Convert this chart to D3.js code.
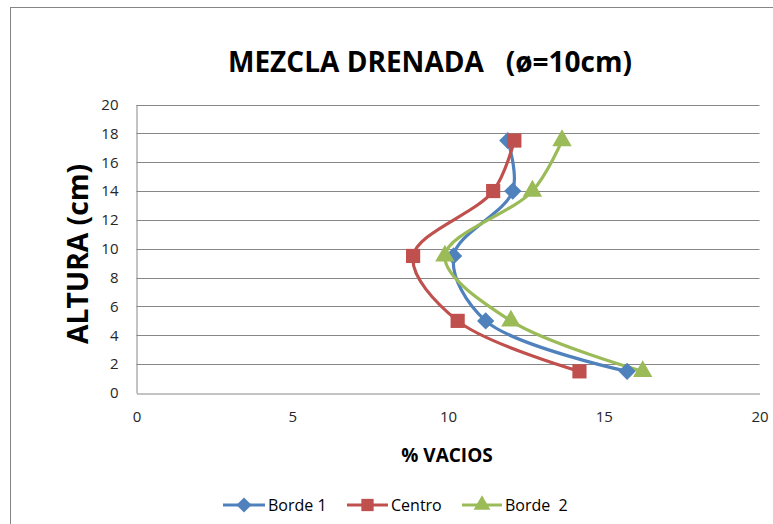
<!DOCTYPE html>
<html>
<head>
<meta charset="utf-8">
<script src="https://cdn.jsdelivr.net/npm/d3@7"></script>
<style>
  html, body { margin: 0; padding: 0; background: #fff; }
  svg { display: block; }
  text { font-family: "Open Sans", "Liberation Sans", sans-serif; }
</style>
</head>
<body>
<svg id="chart" width="773" height="524"></svg>
<script>
// Void content (% vacios) measured at each height of the specimen
const alturas = [17.5, 14, 9.5, 5, 1.5];
const borde1 = [11.92, 12.08, 10.18, 11.21, 15.75];
const centro = [12.13, 11.45, 8.88, 10.31, 14.22];
const borde2 = [13.66, 12.71, 9.90, 12.02, 16.25];
const seriesNames = ["Borde 1", "Centro", "Borde  2"];
const xTicks = [0, 5, 10, 15, 20];
const yTicks = [0, 2, 4, 6, 8, 10, 12, 14, 16, 18, 20];

const colors = ["#4F81BD", "#C0504D", "#9BBB59"];
const symbols = [d3.symbolDiamond2, d3.symbolSquare2, d3.symbolTriangle2];

const series = [borde1, centro, borde2].map((vals, i) => ({
  name: seriesNames[i],
  color: colors[i],
  symbol: symbols[i],
  points: vals.map((v, j) => ({ x: v, y: alturas[j] }))
}));

const svg = d3.select("#chart");

// outer chart frame
svg.append("rect")
  .attr("x", 10.5).attr("y", 7.5)
  .attr("width", 800).attr("height", 560)
  .attr("fill", "none").attr("stroke", "#868686").attr("stroke-width", 1);

const plot = { left: 136.5, right: 759.5, top: 104.5, bottom: 393 };

const x = d3.scaleLinear().domain([0, 20]).range([plot.left, plot.right]);
const y = d3.scaleLinear().domain([0, 20]).range([plot.bottom, plot.top]);

// horizontal gridlines
svg.append("g")
  .selectAll("line")
  .data(yTicks.filter(t => t > 0))
  .join("line")
  .attr("x1", plot.left).attr("x2", plot.right)
  .attr("y1", d => Math.round(y(d)) + 0.5).attr("y2", d => Math.round(y(d)) + 0.5)
  .attr("stroke", "#878787").attr("stroke-width", 1);

// y axis
const yAxis = svg.append("g")
  .attr("transform", `translate(${plot.left},0)`)
  .call(d3.axisLeft(y).tickValues(yTicks).tickSize(0).tickPadding(18));
yAxis.select(".domain").attr("stroke", "#878787");
yAxis.selectAll("text").attr("font-size", 15).attr("fill", "#262626")
  .attr("font-family", "'Open Sans', sans-serif");

// x axis
const xAxis = svg.append("g")
  .attr("transform", `translate(0,${plot.bottom + 0.5})`)
  .call(d3.axisBottom(x).tickValues(xTicks).tickSize(0).tickPadding(18));
xAxis.select(".domain").attr("stroke", "#878787");
xAxis.selectAll("text").attr("font-size", 15).attr("fill", "#262626")
  .attr("font-family", "'Open Sans', sans-serif");

// smoothed series lines
const line = d3.line()
  .x(d => x(d.x)).y(d => y(d.y))
  .curve(d3.curveCatmullRom.alpha(0.5));

svg.append("g")
  .selectAll("path")
  .data(series)
  .join("path")
  .attr("d", d => line(d.points))
  .attr("fill", "none")
  .attr("stroke", d => d.color)
  .attr("stroke-width", 3.2)
  .attr("stroke-linejoin", "round");

// markers
const markerSize = [190, 256, 270];
series.forEach((s, i) => {
  svg.append("g")
    .selectAll("path")
    .data(s.points)
    .join("path")
    .attr("transform", d => `translate(${x(d.x)},${y(d.y)})`)
    .attr("d", d3.symbol().type(s.symbol).size(markerSize[i]))
    .attr("fill", s.color);
});

// titles
svg.append("text")
  .attr("x", 430).attr("y", 72)
  .attr("text-anchor", "middle")
  .attr("font-size", 28).attr("font-weight", "bold")
  .attr("fill", "#000")
  .attr("xml:space", "preserve")
  .attr("textLength", 404).attr("lengthAdjust", "spacingAndGlyphs")
  .text("MEZCLA DRENADA   (\u00F8=10cm)");

svg.append("text")
  .attr("transform", "translate(88,254) rotate(-90)")
  .attr("text-anchor", "middle")
  .attr("font-size", 28).attr("font-weight", "bold")
  .attr("fill", "#000")
  .attr("textLength", 180).attr("lengthAdjust", "spacingAndGlyphs")
  .text("ALTURA (cm)");

svg.append("text")
  .attr("x", 447).attr("y", 462)
  .attr("text-anchor", "middle")
  .attr("font-size", 19).attr("font-weight", "bold")
  .attr("fill", "#000")
  .text("% VACIOS");

// legend
const legendItems = [
  { lx: 223, tx: 268 },
  { lx: 347, tx: 391 },
  { lx: 462, tx: 505 }
];
const legend = svg.append("g");
series.forEach((s, i) => {
  const it = legendItems[i];
  const g = legend.append("g");
  g.append("line")
    .attr("x1", it.lx).attr("x2", it.tx - 3)
    .attr("y1", 505).attr("y2", 505)
    .attr("stroke", s.color).attr("stroke-width", 3.2);
  g.append("path")
    .attr("transform", `translate(${(it.lx + it.tx - 3) / 2},505)`)
    .attr("d", d3.symbol().type(s.symbol).size(markerSize[i] * 0.75))
    .attr("fill", s.color);
  g.append("text")
    .attr("x", it.tx).attr("y", 511)
    .attr("font-size", 16).attr("fill", "#000")
    .attr("xml:space", "preserve")
    .text(s.name);
});
</script>
</body>
</html>
